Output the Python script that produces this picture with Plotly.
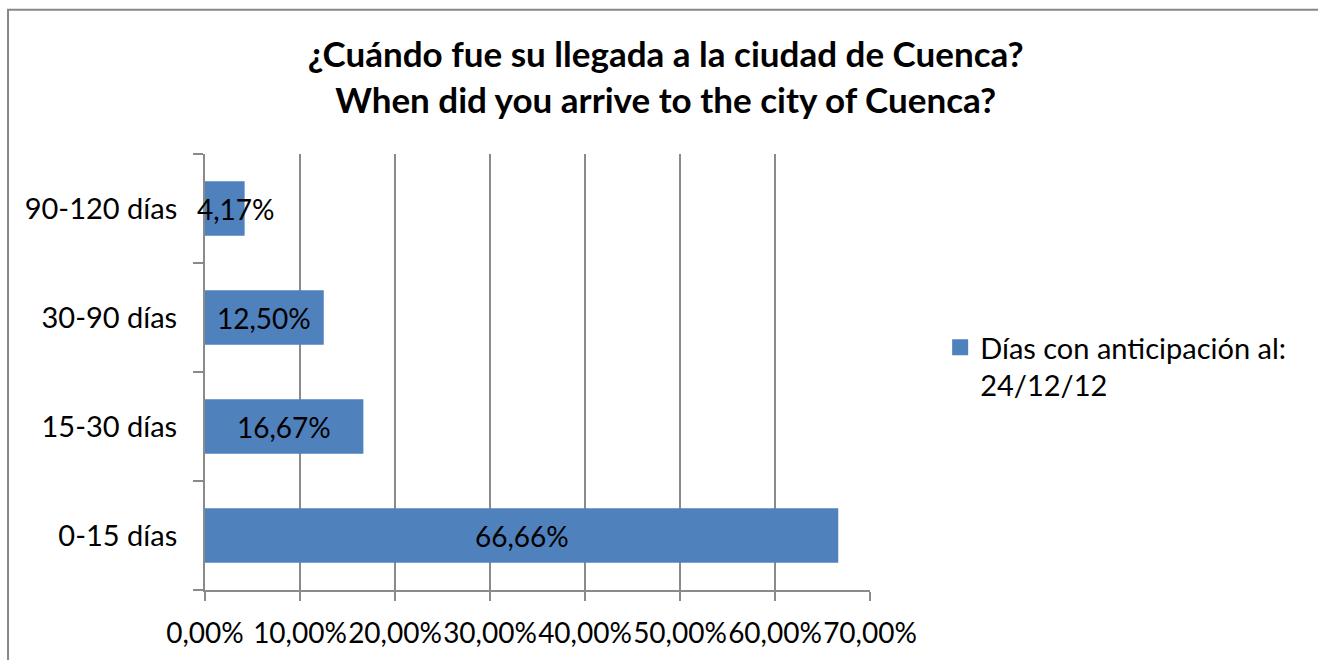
import plotly.graph_objects as go

# Survey data: arrival lead time (days before 24/12/12)
categories = ["0-15 días", "15-30 días", "30-90 días", "90-120 días"]
shares = [66.66, 16.67, 12.50, 4.17]
bar_labels = ["66,66%", "16,67%", "12,50%", "4,17%"]
x_tickvals = [0, 10, 20, 30, 40, 50, 60, 70]
x_ticktext = ["0,00%", "10,00%", "20,00%", "30,00%", "40,00%", "50,00%", "60,00%", "70,00%"]
series_name = "Días con anticipación al:<br>24/12/12"
title_text = "¿Cuándo fue su llegada a la ciudad de Cuenca?<br>When did you arrive to the city of Cuenca?"

FONT = "Lato"
GRID = "#8a8a8a"
BAR = "#4F81BD"

fig = go.Figure()
fig.add_trace(go.Bar(
    y=categories,
    x=shares,
    orientation="h",
    name=series_name,
    legendgroup="s",
    marker=dict(color=BAR, line=dict(width=0)),
    width=0.5,
    showlegend=False,
))
# legend entry with a larger square key for the bar series
fig.add_trace(go.Scatter(
    x=[None], y=[None], mode="markers", name=series_name, legendgroup="s",
    marker=dict(symbol="square", size=18, color=BAR),
    showlegend=True, hoverinfo="skip",
))

# centred value labels on each bar
for cat, v, lab in zip(categories, shares, bar_labels):
    fig.add_annotation(
        x=v / 2, y=cat, text=lab, showarrow=False,
        xshift=11 if v < 5 else 0,
        font=dict(family=FONT, size=28, color="black"),
    )

# outer chart border
fig.add_shape(
    type="rect", xref="paper", yref="paper",
    x0=-0.2962, x1=1.68, y0=-0.17, y1=1.331,
    line=dict(color="#878787", width=2), fillcolor="rgba(0,0,0,0)", layer="below",
)

fig.update_layout(
    width=1318, height=660,
    margin=dict(l=205, r=448, t=154, b=70, autoexpand=False),
    paper_bgcolor="white", plot_bgcolor="white",
    title=dict(
        text=title_text, x=0.505, xanchor="center", y=0.898, yanchor="middle",
        font=dict(family=FONT, size=35, color="black", weight="bold"),
    ),
    font=dict(family=FONT, size=28, color="black"),
    legend=dict(
        x=1.1055, y=0.513, xanchor="left", yanchor="middle", valign="top",
        font=dict(family=FONT, size=29, color="black"),
        itemwidth=30, bgcolor="rgba(0,0,0,0)", tracegroupgap=0,
    ),
)

fig.update_xaxes(
    range=[0, 70], tickvals=x_tickvals, ticktext=x_ticktext, tickangle=0,
    showgrid=True, gridcolor=GRID, gridwidth=2,
    showline=True, linecolor=GRID, linewidth=2,
    ticks="outside", ticklen=9, tickcolor=GRID, tickwidth=2,
    zeroline=False, tickfont=dict(family=FONT, size=28), ticklabelstandoff=8,
    automargin=False,
)
fig.update_yaxes(
    type="category", categoryorder="array", categoryarray=categories,
    showgrid=False, showline=True, linecolor=GRID, linewidth=2,
    ticks="outside", tickson="boundaries", ticklen=10, tickcolor=GRID, tickwidth=2,
    tickfont=dict(family=FONT, size=29), ticklabelstandoff=20,
    automargin=False,
)

fig.write_html("out.html")
